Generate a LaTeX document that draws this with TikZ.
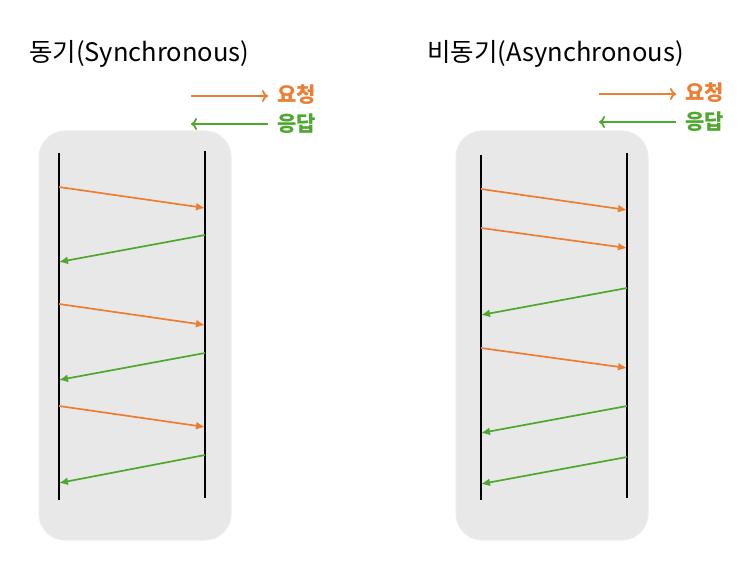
\documentclass[tikz,border=0pt]{standalone}
\usepackage{fontspec}
\setmainfont{Noto Sans CJK KR}
\usetikzlibrary{arrows.meta}
\definecolor{req}{HTML}{ED7D31}
\definecolor{resp}{HTML}{4EA72E}
\definecolor{panel}{HTML}{E8E8E8}
\definecolor{panelborder}{HTML}{EDEDED}
\begin{document}
\begin{tikzpicture}[x=1pt,y=-1pt,
  panelbox/.style={fill=panel,draw=panelborder,line width=1pt,rounded corners=26pt},
  lifeline/.style={line width=2pt,black},
  reqarrow/.style={req,line width=1.7pt,-{Latex[length=9pt,width=8pt]}},
  resparrow/.style={resp,line width=1.7pt,-{Latex[length=9pt,width=8pt]}},
  legreq/.style={req,line width=1.7pt,-{To[length=6pt,width=12pt]}},
  legresp/.style={resp,line width=1.7pt,-{To[length=6pt,width=12pt]}},
  title/.style={anchor=west,inner sep=0pt,font=\fontsize{25.5}{30}\selectfont},
  legtext/.style={anchor=west,inner sep=0pt,font=\fontsize{21}{25}\selectfont\bfseries}
]
\useasboundingbox[fill=white] (0,0) rectangle (745,577);

% ---------- Left panel: synchronous ----------
\node[title] (t1) at (29,54) {동기(Synchronous)};
\coordinate (l1a) at (191,96); \coordinate (l1b) at (268,96);
\coordinate (l2a) at (268,124); \coordinate (l2b) at (191,124);
\draw[legreq] (l1a) -- (l1b);
\draw[legresp] (l2a) -- (l2b);
\node[legtext,req] (lr1) at (277,95) {요청};
\node[legtext,resp] (ls1) at (277,124) {응답};

\draw[panelbox] (39,131) rectangle (231,540);
\coordinate (A1) at (59,153); \coordinate (A2) at (59,500);
\coordinate (B1) at (205,151); \coordinate (B2) at (205,498);
\draw[lifeline] (A1) -- (A2);
\draw[lifeline] (B1) -- (B2);

\coordinate (a1) at (59,187); \coordinate (b1) at (205,208);
\coordinate (b2) at (205,235); \coordinate (a2) at (59,262);
\coordinate (a3) at (59,304); \coordinate (b3) at (205,325);
\coordinate (b4) at (205,353); \coordinate (a4) at (59,380);
\coordinate (a5) at (59,406); \coordinate (b5) at (205,427);
\coordinate (b6) at (205,455); \coordinate (a6) at (59,483);
\draw[reqarrow] (a1) -- (b1);
\draw[resparrow] (b2) -- (a2);
\draw[reqarrow] (a3) -- (b3);
\draw[resparrow] (b4) -- (a4);
\draw[reqarrow] (a5) -- (b5);
\draw[resparrow] (b6) -- (a6);

% ---------- Right panel: asynchronous ----------
\node[title] (t2) at (427,54) {비동기(Asynchronous)};
\coordinate (r1a) at (599,94); \coordinate (r1b) at (676,94);
\coordinate (r2a) at (676,122); \coordinate (r2b) at (599,122);
\draw[legreq] (r1a) -- (r1b);
\draw[legresp] (r2a) -- (r2b);
\node[legtext,req] (lr2) at (685,93) {요청};
\node[legtext,resp] (ls2) at (685,122) {응답};

\draw[panelbox] (456,131) rectangle (648,540);
\coordinate (C1) at (481,155); \coordinate (C2) at (481,500);
\coordinate (D1) at (627,153); \coordinate (D2) at (627,498);
\draw[lifeline] (C1) -- (C2);
\draw[lifeline] (D1) -- (D2);

\coordinate (c1) at (481,189); \coordinate (d1) at (627,210);
\coordinate (c2) at (481,228); \coordinate (d2) at (627,248);
\coordinate (d3) at (627,288); \coordinate (c3) at (481,315);
\coordinate (c4) at (481,348); \coordinate (d4) at (627,368);
\coordinate (d5) at (627,406); \coordinate (c5) at (481,433);
\coordinate (d6) at (627,457); \coordinate (c6) at (481,484);
\draw[reqarrow] (c1) -- (d1);
\draw[reqarrow] (c2) -- (d2);
\draw[resparrow] (d3) -- (c3);
\draw[reqarrow] (c4) -- (d4);
\draw[resparrow] (d5) -- (c5);
\draw[resparrow] (d6) -- (c6);
\end{tikzpicture}
\end{document}
